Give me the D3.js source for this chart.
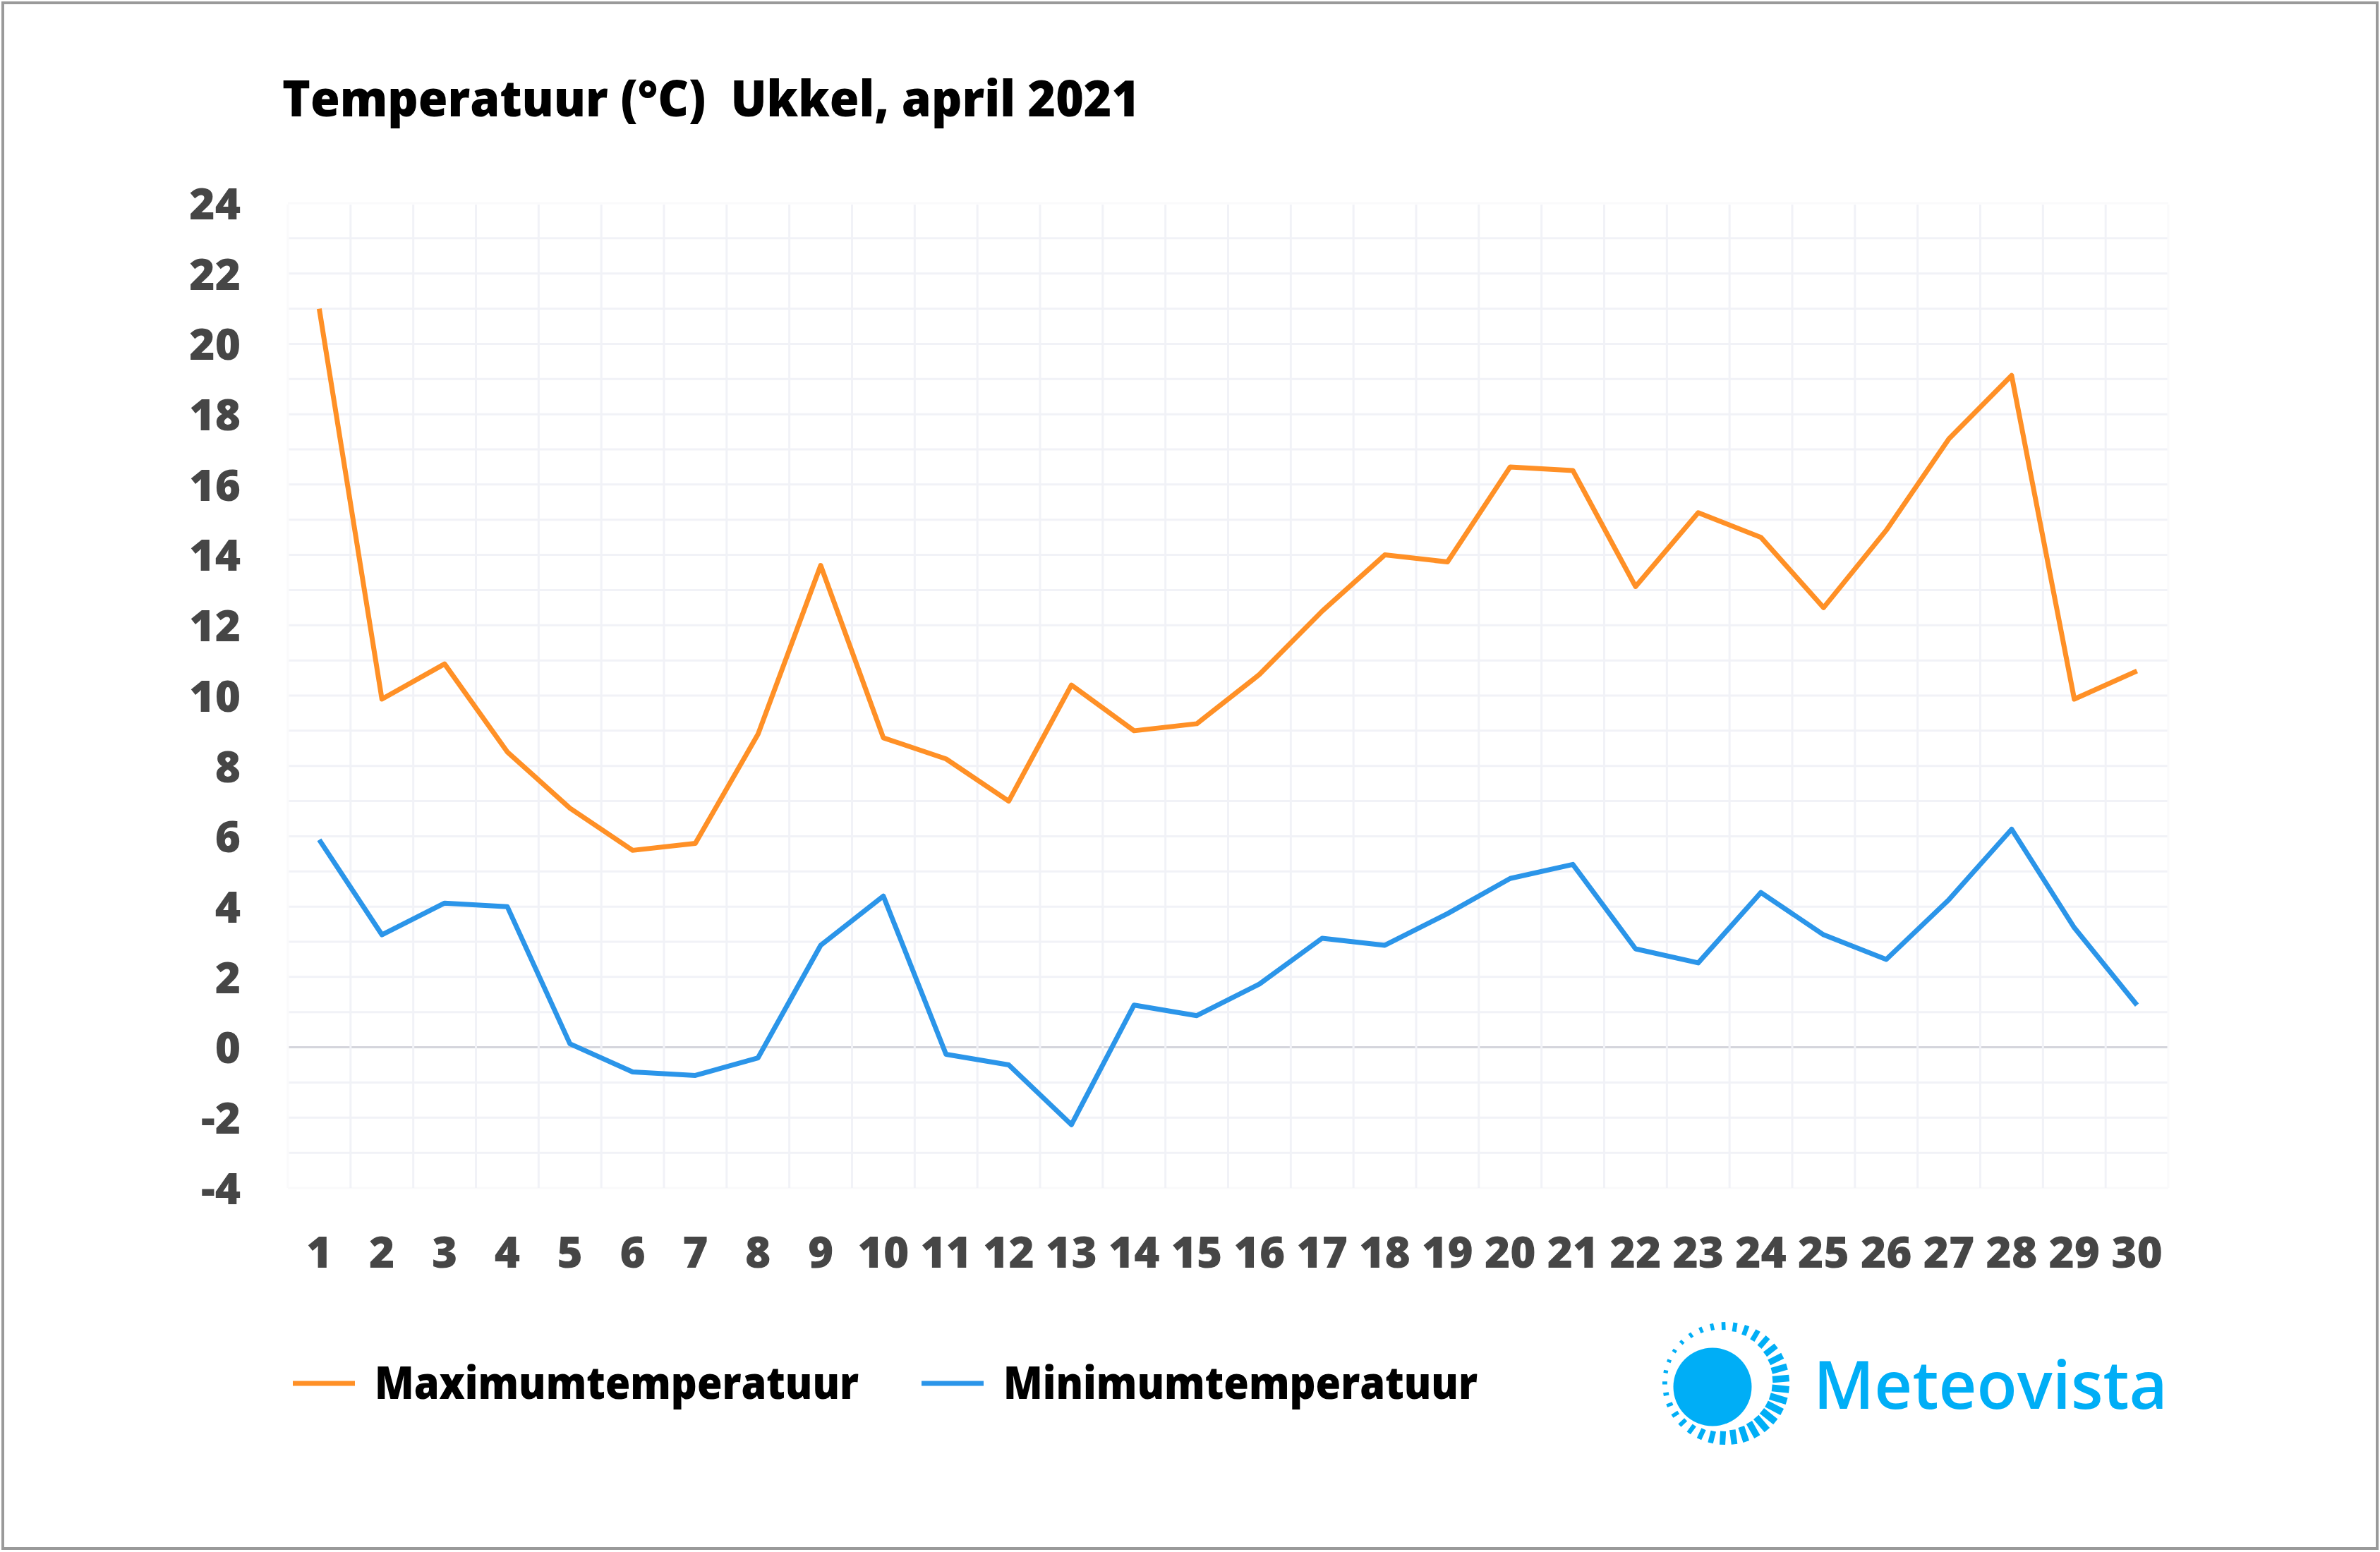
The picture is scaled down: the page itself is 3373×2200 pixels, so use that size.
<!DOCTYPE html>
<html>
<head>
  <meta charset="utf-8">
  <script src="https://d3js.org/d3.v7.min.js"></script>
  <style>
    body { margin: 0; background: #fff; }
    text { font-family: "Open Sans", sans-serif; font-weight: 800; }
  </style>
</head>

<body>

  <script type="text/javascript">
    var w = 3373;
    var h = 2200;

    var svg = d3.select("body")
      .append("svg")
      .attr("width", w)
      .attr("height", h)
      .style("display", "block");

    // frame
    svg.append("rect")
      .attr("x", 4)
      .attr("y", 4)
      .attr("width", w - 8)
      .attr("height", h - 9)
      .attr("fill", "#fff")
      .attr("stroke", "#9a9a9a")
      .attr("stroke-width", 4);

    var days = d3.range(1, 31);
    var tmax = [21, 9.9, 10.9, 8.4, 6.8, 5.6, 5.8, 8.9, 13.7, 8.8, 8.2, 7, 10.3, 9, 9.2,
                10.6, 12.4, 14, 13.8, 16.5, 16.4, 13.1, 15.2, 14.5, 12.5, 14.7, 17.3, 19.1, 9.9, 10.7];
    var tmin = [5.9, 3.2, 4.1, 4, 0.1, -0.7, -0.8, -0.3, 2.9, 4.3, -0.2, -0.5, -2.2, 1.2, 0.9,
                1.8, 3.1, 2.9, 3.8, 4.8, 5.2, 2.8, 2.4, 4.4, 3.2, 2.5, 4.2, 6.2, 3.4, 1.2];

    var maxColor = "#ff9026";
    var minColor = "#2b95e9";
    var gridColor = "#f1f2f7";
    var edgeColor = "#fafafb";

    var xScale = d3.scaleBand()
                   .domain(days)
                   .range([408, 3073]);

    var yScale = d3.scaleLinear()
                   .domain([-4, 24])
                   .range([1684, 288]);

    // grid, the outer lines are almost invisible
    var grid = svg.append("g");

    grid.selectAll(".hgrid")
      .data(d3.range(-4, 25))
      .enter()
      .append("line")
      .attr("x1", 408)
      .attr("x2", 3073)
      .attr("y1", function(d){ return yScale(d); })
      .attr("y2", function(d){ return yScale(d); })
      .attr("stroke", function(d){
        if (d == 0) return "#d4d5dc";
        return (d == 24 || d == -4) ? edgeColor : gridColor;
      })
      .attr("stroke-width", 3);

    grid.selectAll(".vgrid")
      .data(d3.range(0, 31))
      .enter()
      .append("line")
      .attr("x1", function(d){ return 408 + d * xScale.bandwidth(); })
      .attr("x2", function(d){ return 408 + d * xScale.bandwidth(); })
      .attr("y1", 290)
      .attr("y2", 1684)
      .attr("stroke", function(d){ return (d == 0 || d == 30) ? edgeColor : gridColor; })
      .attr("stroke-width", 3);

    // axes
    var yAxis = d3.axisLeft(yScale)
      .tickValues(d3.range(-4, 25, 2))
      .tickFormat(function(d){ return String(d); })
      .tickSize(0)
      .tickPadding(0);
    var xAxis = d3.axisBottom(xScale).tickSize(0).tickPadding(0);

    svg.append("g")
      .attr("transform", "translate(341,0)")
      .call(yAxis)
      .call(function(g){ g.select(".domain").remove(); })
      .selectAll("text")
      .attr("dy", "0.36em")
      .attr("fill", "#464646")
      .style("font-size", "62px");

    svg.append("g")
      .attr("transform", "translate(0,1775)")
      .call(xAxis)
      .call(function(g){ g.select(".domain").remove(); })
      .selectAll("text")
      .attr("y", 0)
      .attr("dy", "0.36em")
      .attr("fill", "#464646")
      .style("font-size", "62px");

    // lines
    var line = d3.line()
      .x(function(d, i){ return xScale(days[i]) + xScale.bandwidth() / 2; })
      .y(function(d){ return yScale(d); });

    [[tmax, maxColor], [tmin, minColor]].forEach(function(s){
      svg.append("path")
        .attr("d", line(s[0]))
        .attr("fill", "none")
        .attr("stroke", s[1])
        .attr("stroke-width", 7)
        .attr("stroke-linejoin", "round");
    });

    // title
    svg.append("text")
      .attr("x", 400)
      .attr("y", 165)
      .attr("fill", "#000")
      .attr("textLength", 1215)
      .attr("lengthAdjust", "spacingAndGlyphs")
      .style("font-size", "70px")
      .style("white-space", "pre")
      .text("Temperatuur (°C)  Ukkel, april 2021");

    // legend
    var legend = [
      {name: "Maximumtemperatuur", color: maxColor, x: 415, len: 686},
      {name: "Minimumtemperatuur", color: minColor, x: 1306, len: 672}
    ];

    var lg = svg.selectAll(".lg")
      .data(legend)
      .enter()
      .append("g")
      .attr("transform", function(d){ return "translate(" + d.x + ",1961)"; });

    lg.append("line")
      .attr("x2", 88)
      .attr("stroke", function(d){ return d.color; })
      .attr("stroke-width", 7);

    lg.append("text")
      .attr("x", 116)
      .attr("y", 22)
      .attr("fill", "#000")
      .attr("textLength", function(d){ return d.len; })
      .attr("lengthAdjust", "spacingAndGlyphs")
      .style("font-size", "63px")
      .text(function(d){ return d.name; });

    // logo
    var logoColor = "#00aef6";
    var logo = svg.append("g");

    logo.append("circle")
      .attr("cx", 2427)
      .attr("cy", 1966)
      .attr("r", 55.5)
      .attr("fill", logoColor);

    // rays get longer and wider towards the lower right
    logo.selectAll(".ray")
      .data(d3.range(33))
      .enter()
      .append("line")
      .each(function(d){
        var a = (d * 360 / 33 - 5) * Math.PI / 180;
        var k = (1 + Math.cos(a - 0.44)) / 2;
        var len = 6 + 19 * k;
        var x = Math.cos(a), y = Math.sin(a);
        d3.select(this)
          .attr("x1", 2446 + x * 90)
          .attr("y1", 1961 + y * 87)
          .attr("x2", 2446 + x * (90 - len))
          .attr("y2", 1961 + y * (87 - len))
          .attr("stroke-width", 4 + 6 * k);
      })
      .attr("stroke", logoColor);

    logo.append("text")
      .attr("x", 2570)
      .attr("y", 1997)
      .attr("fill", logoColor)
      .attr("textLength", 502)
      .attr("lengthAdjust", "spacingAndGlyphs")
      .style("font-size", "95px")
      .style("font-weight", 600)
      .text("Meteovista");
  </script>

</body>
</html>
